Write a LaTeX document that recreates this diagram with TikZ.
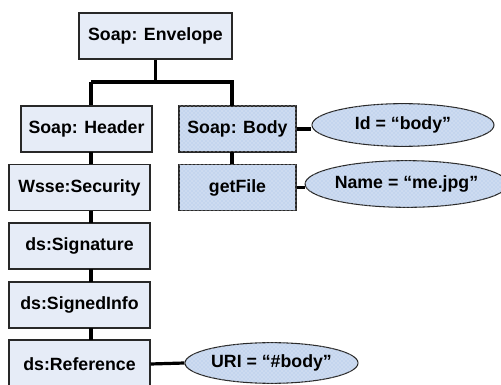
\documentclass[tikz,border=0pt]{standalone}
\usepackage{fontspec}
\setmainfont{Liberation Sans}
\usetikzlibrary{shapes.geometric,patterns}
\definecolor{paleblue}{RGB}{230,236,247}
\definecolor{dotblue}{RGB}{196,213,238}
\definecolor{edgegray}{RGB}{40,40,40}
\tikzset{
  elem/.style={draw=edgegray, line width=0.8pt, fill=paleblue, minimum height=34.5pt,
    inner sep=0pt, font=\fontsize{13.3}{16}\selectfont\bfseries},
  bodyelem/.style={elem, fill=dotblue, postaction={pattern=crosshatch dots, pattern color=white!70!dotblue}},
  attr/.style={ellipse, draw=edgegray, line width=0.8pt, fill=dotblue,
    postaction={pattern=crosshatch dots, pattern color=white!70!dotblue},
    inner sep=0pt, font=\fontsize{13.3}{16}\selectfont\bfseries},
  link/.style={line width=2.4pt, black}
}
\begin{document}
\begin{tikzpicture}[x=0.75pt,y=-0.75pt]
\useasboundingbox (0,0) rectangle (501,385);
\clip (0,0) rectangle (501,385);
% element tree
\node[elem, minimum width=114.75pt] (env) at (155.5,36) {Soap: Envelope};
\node[elem, minimum width=98.25pt] (hdr) at (86.5,129) {Soap: Header};
\node[bodyelem, minimum width=87.75pt] (body) at (237.5,129) {Soap: Body};
\node[bodyelem, minimum width=87.75pt] (get) at (237.5,187.5) {getFile};
\node[elem, minimum width=105.75pt] (sec) at (79.5,187.5) {Wsse:Security};
\node[elem, minimum width=105.75pt] (sig) at (79.5,246) {ds:Signature};
\node[elem, minimum width=105.75pt] (inf) at (79.5,305) {ds:SignedInfo};
\node[elem, minimum width=105.75pt, minimum height=36pt] (ref) at (79.5,364) {ds:Reference};
% attributes
\node[attr, minimum width=136.5pt, minimum height=32pt] (idattr) at (403,125) {Id = “body”};
\node[attr, minimum width=140pt, minimum height=35pt] (nameattr) at (406.5,184) {Name = “me.jpg”};
\node[attr, minimum width=129.75pt, minimum height=30.5pt] (uriattr) at (271.5,363) {URI = “\#body”};
% connectors
\coordinate (split) at (155.5,82);
\draw[link] (env.south) -- (split);
\draw[link] (91,82) -| (hdr.north -| 91,0) ;
\draw[link] (91,82) -- (232,82) -- (232,106);
\draw[link] (91,152) -- (91,164);
\draw[link] (91,211) -- (91,223);
\draw[link] (91,269) -- (91,282);
\draw[link] (91,328) -- (91,340);
\draw[link] (232,152) -- (232,164);
\draw[link] (body.east) -- (idattr.west |- body.east);
\draw[link] (get.east) -- (nameattr.west |- get.east);
\draw[link] (ref.east) -- (uriattr.west);
\end{tikzpicture}
\end{document}
